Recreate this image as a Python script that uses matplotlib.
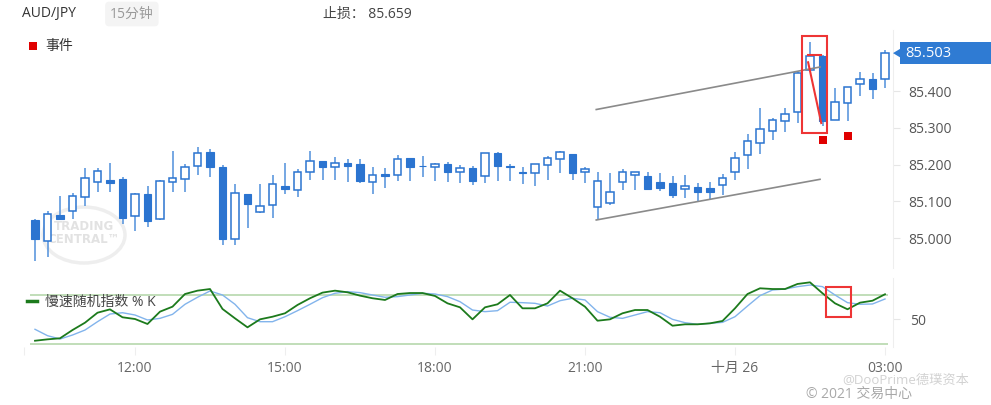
import matplotlib
matplotlib.use("Agg")
import matplotlib.pyplot as plt
import matplotlib.transforms as mtransforms
from matplotlib.patches import Rectangle, Ellipse, Polygon
from matplotlib.lines import Line2D
import numpy as np

plt.rcParams['font.family'] = ['Open Sans', 'Noto Sans CJK SC', 'DejaVu Sans']

# ---------------- data ----------------
symbol = "AUD/JPY"
interval_label = "15分钟"
stop_label = "止损： 85.659"
event_label = "事件"
osc_label = "慢速随机指数 % K"

opens = [85.050, 84.993, 85.063, 85.075, 85.113, 85.152, 85.158, 85.160, 85.060, 85.120,
         85.051, 85.154, 85.160, 85.197, 85.233, 85.194, 84.998, 85.119, 85.072, 85.090,
         85.143, 85.131, 85.181, 85.210, 85.194, 85.205, 85.201, 85.154, 85.174, 85.172,
         85.217, 85.197, 85.194, 85.202, 85.181, 85.190, 85.169, 85.231, 85.197, 85.179,
         85.176, 85.199, 85.215, 85.228, 85.179, 85.084, 85.095, 85.154, 85.172, 85.169,
         85.152, 85.151, 85.133, 85.138, 85.136, 85.145, 85.179, 85.226, 85.260, 85.292,
         85.318, 85.344, 85.457, 85.496, 85.321, 85.368, 85.419, 85.432, 85.432]
highs = [85.051, 85.075, 85.115, 85.124, 85.190, 85.190, 85.204, 85.167, 85.122, 85.142,
         85.157, 85.238, 85.202, 85.249, 85.242, 85.199, 85.146, 85.120, 85.146, 85.172,
         85.204, 85.188, 85.238, 85.211, 85.220, 85.214, 85.214, 85.194, 85.190, 85.226,
         85.218, 85.223, 85.205, 85.208, 85.199, 85.196, 85.232, 85.233, 85.202, 85.194,
         85.202, 85.223, 85.237, 85.229, 85.194, 85.179, 85.178, 85.187, 85.180, 85.179,
         85.176, 85.169, 85.172, 85.149, 85.154, 85.174, 85.233, 85.282, 85.355, 85.326,
         85.355, 85.451, 85.532, 85.497, 85.407, 85.411, 85.451, 85.448, 85.511]
lows = [84.938, 84.949, 85.049, 85.052, 85.088, 85.126, 85.126, 85.039, 85.020, 85.030,
        85.049, 85.126, 85.126, 85.172, 85.167, 84.982, 84.982, 85.029, 85.068, 85.054,
        85.119, 85.111, 85.158, 85.158, 85.158, 85.154, 85.149, 85.120, 85.137, 85.156,
        85.156, 85.167, 85.156, 85.154, 85.151, 85.145, 85.149, 85.156, 85.156, 85.147,
        85.142, 85.158, 85.178, 85.158, 85.151, 85.050, 85.090, 85.131, 85.131, 85.131,
        85.129, 85.108, 85.108, 85.099, 85.106, 85.117, 85.158, 85.188, 85.228, 85.267,
        85.288, 85.312, 85.452, 85.306, 85.320, 85.318, 85.387, 85.378, 85.407]
closes = [84.998, 85.066, 85.051, 85.115, 85.163, 85.183, 85.151, 85.054, 85.120, 85.048,
          85.155, 85.163, 85.194, 85.231, 85.193, 84.998, 85.122, 85.092, 85.088, 85.146,
          85.133, 85.181, 85.211, 85.194, 85.204, 85.197, 85.155, 85.172, 85.169, 85.214,
          85.193, 85.195, 85.202, 85.179, 85.190, 85.156, 85.231, 85.197, 85.193, 85.176,
          85.201, 85.217, 85.233, 85.178, 85.187, 85.156, 85.126, 85.181, 85.179, 85.133,
          85.136, 85.117, 85.143, 85.126, 85.126, 85.163, 85.217, 85.264, 85.296, 85.321,
          85.338, 85.450, 85.496, 85.318, 85.371, 85.410, 85.432, 85.405, 85.503]

k_values = [24.0, 25.7, 27.0, 37.1, 46.1, 58.3, 62.4, 52.7, 50.6, 44.5,
            59.6, 65.7, 81.2, 85.3, 87.3, 62.9, 51.4, 40.4, 50.2, 53.4,
            57.6, 67.8, 76.0, 82.9, 85.3, 83.3, 79.2, 76.0, 73.9, 81.2,
            82.4, 82.4, 78.8, 69.8, 64.9, 50.2, 64.9, 68.6, 80.0, 63.7,
            63.7, 69.8, 85.3, 76.0, 65.7, 48.5, 50.2, 57.6, 61.6, 61.6,
            53.4, 42.4, 44.1, 44.1, 45.3, 48.2, 63.7, 81.2, 88.2, 87.3,
            87.3, 93.5, 95.5, 82.1, 69.8, 62.5, 70.6, 73.0, 80.9]
d_values = [38.0, 30.2, 26.1, 31.0, 37.1, 47.3, 56.7, 58.3, 55.5, 49.4,
            51.4, 56.3, 68.6, 77.2, 84.9, 80.0, 68.6, 52.2, 47.3, 47.3,
            53.4, 60.8, 68.6, 76.7, 82.1, 84.1, 82.9, 80.0, 77.2, 78.0,
            80.0, 82.1, 81.2, 78.0, 71.8, 61.6, 59.6, 60.8, 71.1, 70.6,
            69.8, 66.5, 73.0, 76.0, 73.9, 59.6, 52.7, 51.4, 55.5, 59.6,
            58.3, 50.2, 46.1, 44.1, 45.3, 46.5, 53.4, 66.5, 79.2, 86.1,
            87.3, 90.2, 92.2, 90.2, 80.0, 70.6, 68.6, 69.0, 75.1]

time_tick_idx = [8, 20, 32, 44, 56, 68]
time_tick_labels = ["12:00", "15:00", "18:00", "21:00", "十月 26", "03:00"]
price_ticks = [85.0, 85.1, 85.2, 85.3, 85.4]
osc_ticks = [50]
osc_levels = [80, 20]

event_idx = [63, 65]
event_price = [85.2655, 85.2777]

channel_x = [44.9, 62.8]
channel_upper = [85.3497, 85.4652]
channel_lower = [85.0495, 85.160]

highlight_x = [61.36, 63.36]
highlight_price = [85.2859, 85.5495]
highlight_osc_x = [63.3, 65.3]
highlight_osc = [53.4, 90.2]
red_top_x = [61.85, 62.9]
red_top_y = [85.497, 85.497]
red_diag_y = [85.478, 85.313]

last_price = 85.503

# ---------------- layout helpers ----------------
W, H = 991, 405
PX_PER_PRICE = 368.0


def fx(px):
    return px / W


def fy(py):
    return 1 - py / H


BLUE = '#2b74d0'
WICK = '#4f8fdb'
RED = '#ee3535'

fig = plt.figure(figsize=(W / 100, H / 100), dpi=100)
fig.patch.set_facecolor('white')

# ---------------- main price axes ----------------
ax = fig.add_axes([fx(24), fy(268), (893 - 24) / W, (268 - 30) / H])
ax.set_xlim(-0.88, 68.64)
ax.set_ylim(84.919, 85.5658)
for s in ['top', 'left', 'bottom']:
    ax.spines[s].set_visible(False)
ax.spines['right'].set_color('#eeeeee')
ax.yaxis.tick_right()
ax.set_yticks(price_ticks)
ax.set_yticklabels([f"{p:.3f}" for p in price_ticks])
ax.tick_params(axis='y', colors='#e6e6e6', labelcolor='#555555', labelsize=10,
               length=5, pad=6)
ax.set_xticks([])

# watermark (behind candles)
ax.add_patch(Ellipse((fx(84), fy(235)), 82 / W, 56 / H, transform=fig.transFigure,
                     fill=False, ec='#eeeeee', lw=2.5, zorder=0, clip_on=False))
ax.text(fx(84), fy(227), "TRADING", ha='center', va='center', fontsize=8.5,
        fontweight='bold', color='#e2e2e2', zorder=0, family='DejaVu Sans',
        transform=fig.transFigure)
ax.text(fx(84), fy(239.5), "CENTRAL™", ha='center', va='center', fontsize=8.5,
        fontweight='bold', color='#e2e2e2', zorder=0, family='DejaVu Sans',
        transform=fig.transFigure)

o = np.array(opens); h = np.array(highs); l = np.array(lows); c = np.array(closes)
x = np.arange(len(o))
up = c >= o
bottom = np.minimum(o, c)
height = np.maximum(np.abs(c - o), 0.0018)

ax.vlines(x, l, h, color=WICK, lw=1.1, zorder=2)
ax.bar(x[up], height[up], bottom=bottom[up], width=0.62, facecolor='white',
       edgecolor=BLUE, linewidth=1.1, zorder=3)
ax.bar(x[~up], height[~up], bottom=bottom[~up], width=0.62, facecolor=BLUE,
       edgecolor=BLUE, linewidth=0.8, zorder=3)

# channel lines
ax.plot(channel_x, channel_upper, color='#8a8a8a', lw=1.2, zorder=4)
ax.plot(channel_x, channel_lower, color='#8a8a8a', lw=1.2, zorder=4)

# highlight
ax.add_patch(Rectangle((highlight_x[0], highlight_price[0]),
                       highlight_x[1] - highlight_x[0],
                       highlight_price[1] - highlight_price[0],
                       fill=False, ec=RED, lw=1.5, zorder=5))
ax.plot(red_top_x, red_top_y, color=RED, lw=1.5, zorder=5)
ax.plot(red_top_x, red_diag_y, color=RED, lw=1.5, zorder=5)

# events
ev = ax.scatter(event_idx, event_price, marker='s', s=34, color='#e00000',
                zorder=5, label=event_label, linewidths=0)
ax.legend(handles=[ev], labels=[event_label], loc='upper left',
          bbox_to_anchor=(fx(29), fy(39)), bbox_transform=fig.transFigure,
          frameon=False, fontsize=10, handlelength=0.6, handletextpad=0.55,
          borderpad=0, borderaxespad=0, scatterpoints=1, labelcolor='#333333')

# current price label
trans = mtransforms.blended_transform_factory(ax.transAxes, ax.transData)


def xa(px):
    return (px - 24) / 869


box_h = 22 / PX_PER_PRICE
tri_h = 4.5 / PX_PER_PRICE
ax.add_patch(Rectangle((xa(900), last_price - box_h / 2), xa(991) - xa(900), box_h,
                       transform=trans, fc='#2f7bd3', ec='none', clip_on=False, zorder=6))
ax.add_patch(Polygon([(xa(893), last_price), (xa(900.5), last_price + tri_h),
                      (xa(900.5), last_price - tri_h)], closed=True,
                     transform=trans, fc='#2f7bd3', ec='none', clip_on=False, zorder=6))
ax.text(xa(905), last_price, f"{last_price:.3f}", transform=trans, ha='left',
        va='center', color='white', fontsize=10.5, zorder=7, clip_on=False)

# ---------------- oscillator axes ----------------
ax2 = fig.add_axes([fx(24), fy(347), 869 / W, (347 - 278) / H])
ax2.set_xlim(-0.88, 68.64)
ax2.set_ylim(16.33, 100.8)
for s in ['top', 'left', 'bottom']:
    ax2.spines[s].set_visible(False)
ax2.spines['right'].set_color('#eeeeee')
ax2.hlines(osc_levels, -0.4, 68.2, color='#b6d8ad', lw=1.2, zorder=1)
ax2.plot(x, d_values, color='#82b4ec', lw=1.0, zorder=2)
ax2.plot(x, k_values, color='#1c7a1c', lw=1.3, zorder=3)
ax2.add_patch(Rectangle((highlight_osc_x[0], highlight_osc[0]),
                        highlight_osc_x[1] - highlight_osc_x[0],
                        highlight_osc[1] - highlight_osc[0],
                        fill=False, ec=RED, lw=1.5, zorder=5))
ax2.yaxis.tick_right()
ax2.set_yticks(osc_ticks)
ax2.set_yticklabels([str(v) for v in osc_ticks])
ax2.tick_params(axis='y', colors='#e6e6e6', labelcolor='#555555', labelsize=10,
                length=5, pad=7)
ax2.set_xticks([-0.88] + time_tick_idx)
ax2.set_xticklabels([''] + time_tick_labels)
ax2.tick_params(axis='x', colors='#eeeeee', labelcolor='#666666', labelsize=10,
                length=6, pad=4)
ax2.legend(handles=[Line2D([], [], color='#1c7a1c', lw=2.5)], labels=[osc_label],
           loc='upper left', bbox_to_anchor=(fx(27), fy(295)),
           bbox_transform=fig.transFigure, frameon=False, fontsize=10,
           handlelength=0.75, handletextpad=0.55, borderpad=0, borderaxespad=0,
           labelcolor='#444444')

# ---------------- header & footer text ----------------
fig.text(fx(22), fy(14), symbol, ha='left', va='center', fontsize=10, color='#333333')
fig.text(fx(110), fy(14), interval_label, ha='left', va='center', fontsize=10,
         color='#9a9a9a',
         bbox=dict(boxstyle='round,pad=0.35,rounding_size=0.3', fc='#f4f4f4', ec='none'))
fig.text(fx(323), fy(14), stop_label, ha='left', va='center', fontsize=10, color='#444444')
fig.text(fx(842), fy(380), "@DooPrime德璞资本", ha='left', va='center', fontsize=9.5,
         color='#d2d2d2')
fig.text(fx(806), fy(394), "© 2021 交易中心", ha='left', va='center', fontsize=10,
         color='#a8a8a8')

fig.savefig("out.png", dpi=100, facecolor='white')
